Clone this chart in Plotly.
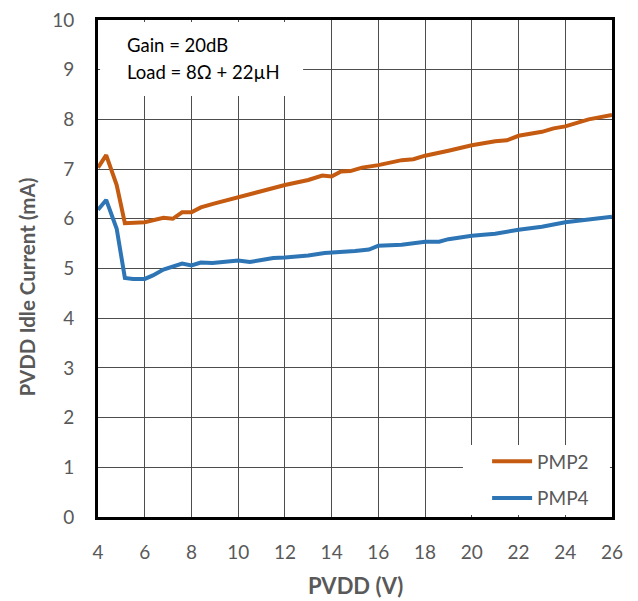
import plotly.graph_objects as go

pmp2_x = [4.0, 4.35, 4.8, 5.15, 6.0, 6.4, 6.8, 7.2, 7.6, 8.0, 8.4, 9.0, 10.0, 11.0, 12.0, 13.0, 13.6, 14.0, 14.4, 14.8,
          15.3, 16.0, 17.0, 17.5, 18.0, 19.0, 20.0, 21.0, 21.5, 22.0, 23.0, 23.5, 24.0, 25.0, 26.0]
pmp2_y = [7.03, 7.28, 6.68, 5.91, 5.93, 5.97, 6.02, 6.0, 6.13, 6.13, 6.23, 6.31, 6.44, 6.55, 6.68, 6.78, 6.87, 6.85, 6.95, 6.96,
          7.03, 7.08, 7.18, 7.2, 7.27, 7.37, 7.48, 7.56, 7.58, 7.67, 7.75, 7.82, 7.86, 8.0, 8.09]

pmp4_x = [4.0, 4.35, 4.8, 5.15, 5.5, 6.0, 6.35, 6.8, 7.6, 8.0, 8.4, 8.9, 10.0, 10.5, 11.0, 11.5, 12.0, 13.0, 13.7, 14.2,
          15.0, 15.6, 16.0, 17.0, 17.5, 18.0, 18.6, 19.0, 20.0, 21.0, 22.0, 23.0, 24.0, 25.0, 26.0]
pmp4_y = [6.18, 6.38, 5.8, 4.81, 4.79, 4.79, 4.86, 4.98, 5.1, 5.06, 5.12, 5.11, 5.16, 5.13, 5.17, 5.21, 5.22, 5.26, 5.31, 5.32,
          5.35, 5.38, 5.46, 5.48, 5.5, 5.54, 5.54, 5.59, 5.66, 5.7, 5.78, 5.84, 5.93, 5.98, 6.04]

x_ticks = [4, 6, 8, 10, 12, 14, 16, 18, 20, 22, 24, 26]
y_ticks = [0, 1, 2, 3, 4, 5, 6, 7, 8, 9, 10]

FONT = "Lato"
GRAY = "#595959"

fig = go.Figure()
fig.add_trace(go.Scatter(x=pmp2_x, y=pmp2_y, mode="lines", name="PMP2", legendgroup="a",
                         line=dict(color="#C55A11", width=4)))
fig.add_trace(go.Scatter(x=pmp4_x, y=pmp4_y, mode="lines", name="PMP4", legendgroup="b",
                         line=dict(color="#2E75B6", width=4)))

# white boxes over the gridlines (condition text box and legend box)
fig.add_shape(type="rect", xref="x domain", yref="y domain", x0=0.004, x1=0.399, y0=0.847, y1=0.996,
              fillcolor="white", line=dict(width=0), layer="above")
fig.add_shape(type="rect", xref="x domain", yref="y domain", x0=0.710, x1=0.996, y0=0.004, y1=0.145,
              fillcolor="white", line=dict(width=0), layer="above")

fig.add_annotation(xref="paper", yref="paper", x=0.0525, y=0.950, xanchor="left", yanchor="middle",
                   text="Gain = 20dB", showarrow=False, font=dict(family=FONT, size=18.5, color="black"))
fig.add_annotation(xref="paper", yref="paper", x=0.0525, y=0.895, xanchor="left", yanchor="middle",
                   text="Load = 8Ω + 22µH", showarrow=False, font=dict(family=FONT, size=18.5, color="black"))

# axis titles
fig.add_annotation(xref="paper", yref="paper", x=0.5, y=-0.137, xanchor="center", yanchor="middle",
                   text="<b>PVDD (V)</b>", showarrow=False, font=dict(family=FONT, size=22, color=GRAY))
fig.add_annotation(xref="paper", yref="paper", x=-0.138, y=0.462, xanchor="center", yanchor="middle",
                   text="<b>PVDD Idle Current (mA)</b>", textangle=-90, showarrow=False,
                   font=dict(family=FONT, size=20.5, color=GRAY))

fig.update_layout(
    width=630, height=593,
    margin=dict(l=90, r=26, t=12, b=84, autoexpand=False),
    paper_bgcolor="white", plot_bgcolor="white",
    font=dict(family=FONT, color=GRAY),
    showlegend=True,
    legend=dict(x=0.757, y=0.0745, xanchor="left", yanchor="middle", bgcolor="rgba(0,0,0,0)",
                font=dict(family=FONT, size=19, color=GRAY), tracegroupgap=9, itemwidth=40),
    xaxis=dict(range=[4, 26], tickvals=x_ticks, ticktext=[str(v) for v in x_ticks],
               showgrid=True, gridcolor="#4d4d4d", gridwidth=1, automargin=False,
               showline=True, linecolor="black", linewidth=3, mirror=True,
               ticks="outside", ticklen=16, tickcolor="rgba(0,0,0,0)", zeroline=False,
               ticklabeloverflow="allow",
               tickfont=dict(family=FONT, size=19, color=GRAY)),
    yaxis=dict(range=[0, 10], tickvals=y_ticks, ticktext=[str(v) for v in y_ticks],
               showgrid=True, gridcolor="#4d4d4d", gridwidth=1, automargin=False,
               showline=True, linecolor="black", linewidth=3, mirror=True,
               ticks="outside", ticklen=17, tickcolor="rgba(0,0,0,0)", zeroline=False,
               ticklabeloverflow="allow",
               tickfont=dict(family=FONT, size=19, color=GRAY)),
)

fig.write_html("out.html")
